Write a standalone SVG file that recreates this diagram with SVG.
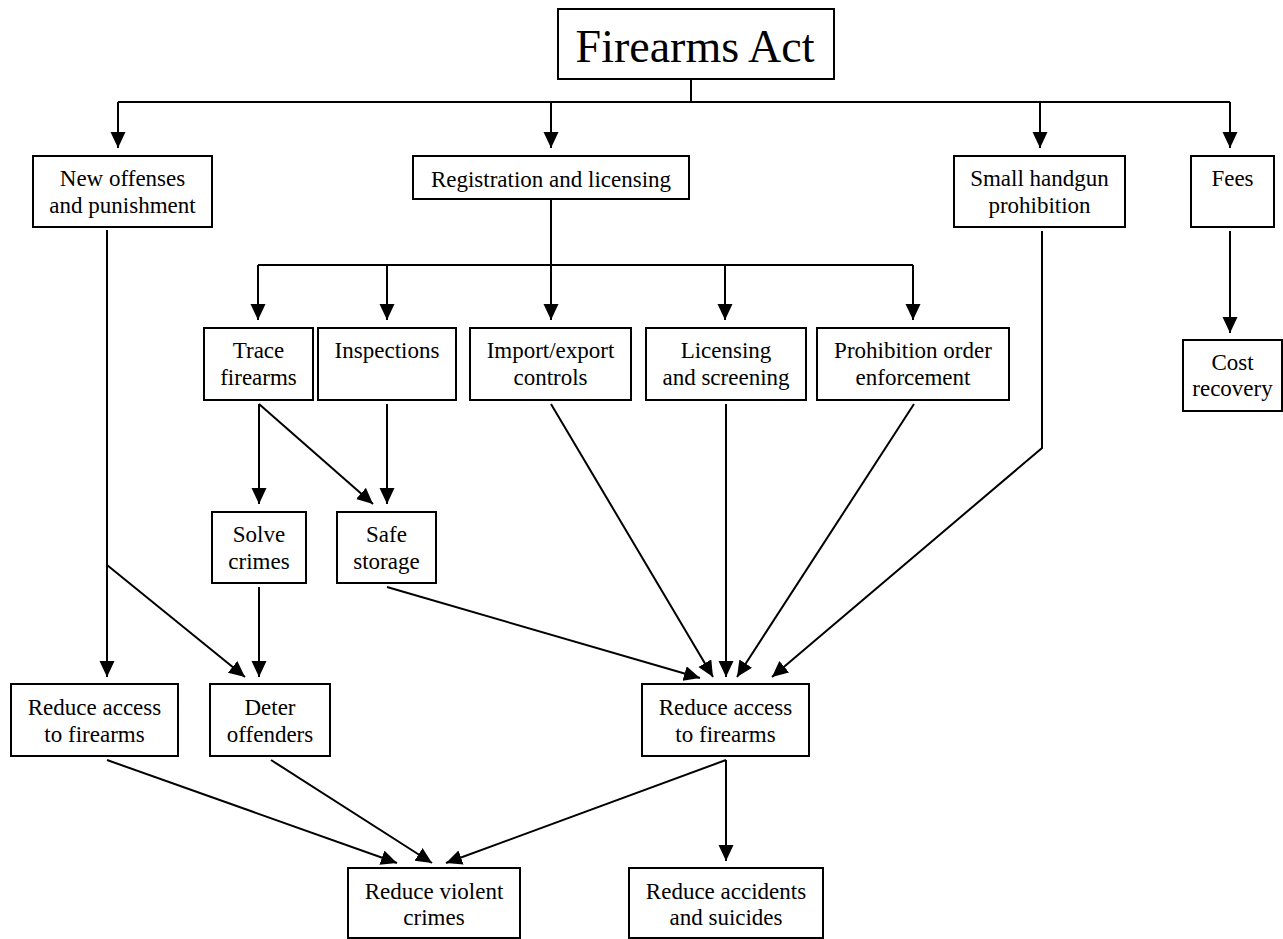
<svg xmlns="http://www.w3.org/2000/svg" width="1283" height="939" viewBox="0 0 1283 939">
<style>
.box{fill:#fff;stroke:#000;stroke-width:2}
text{font-family:"Liberation Serif","Times New Roman",serif;font-size:23px;fill:#000;text-anchor:middle}
.title{font-size:46px}
.c path{fill:none;stroke:#000;stroke-width:2}
.c path.a{marker-end:url(#ah)}
</style>
<defs>
<marker id="ah" markerUnits="userSpaceOnUse" markerWidth="17" markerHeight="16" refX="16" refY="7.5" orient="auto">
<path d="M0,0 L16,7.5 L0,15 z" fill="#000"/>
</marker>
</defs>
<rect width="1283" height="939" fill="#fff"/>
<g class="c" id="connectors">
<path d="M691 79 V102"/>
<path d="M118 102 H1230"/>
<path class="a" d="M118 102 V148"/>
<path class="a" d="M551 102 V148"/>
<path class="a" d="M1040 102 V148"/>
<path class="a" d="M1230 102 V148"/>
<path class="a" d="M551 199 V320"/>
<path d="M258 265 H913"/>
<path class="a" d="M258 265 V320"/>
<path class="a" d="M387 265 V320"/>
<path class="a" d="M725 265 V320"/>
<path class="a" d="M913 265 V320"/>
<path class="a" d="M1230 231 V333"/>
<path class="a" d="M259 404 V504"/>
<path class="a" d="M259 404 L373 504"/>
<path class="a" d="M387 404 V504"/>
<path class="a" d="M259 587 V677"/>
<path class="a" d="M387 587 L700 678"/>
<path class="a" d="M551 404 L713 677"/>
<path class="a" d="M726 404 V677"/>
<path class="a" d="M914 404 L737 677"/>
<path class="a" d="M1042 231 V448 L772 677"/>
<path class="a" d="M107 230 V677"/>
<path class="a" d="M107 565 L245 677"/>
<path class="a" d="M107 760 L397 863"/>
<path class="a" d="M271 760 L432 863"/>
<path class="a" d="M726 760 L446 863"/>
<path class="a" d="M726 760 V861"/>
</g>
<g id="act"><rect class="box" x="558" y="9" width="276" height="70"/><text class="title" x="695" y="62">Firearms Act</text></g>
<g id="offenses"><rect class="box" x="33" y="156" width="179" height="71"/><text x="122.5" y="186">New offenses</text><text x="122.5" y="213">and punishment</text></g>
<g id="registration"><rect class="box" x="413" y="156" width="276" height="43"/><text x="551" y="187">Registration and licensing</text></g>
<g id="handgun"><rect class="box" x="954" y="156" width="171" height="71"/><text x="1039.5" y="186">Small handgun</text><text x="1039.5" y="213">prohibition</text></g>
<g id="fees"><rect class="box" x="1191" y="156" width="83" height="71"/><text x="1232.5" y="186">Fees</text></g>
<g id="trace"><rect class="box" x="204" y="328" width="109" height="72"/><text x="258.5" y="358">Trace</text><text x="258.5" y="385">firearms</text></g>
<g id="inspections"><rect class="box" x="318" y="328" width="138" height="72"/><text x="387" y="358">Inspections</text></g>
<g id="import"><rect class="box" x="470" y="328" width="161" height="72"/><text x="550.5" y="358">Import/export</text><text x="550.5" y="385">controls</text></g>
<g id="licensing"><rect class="box" x="646" y="328" width="160" height="72"/><text x="726" y="358">Licensing</text><text x="726" y="385">and screening</text></g>
<g id="prohibition"><rect class="box" x="817" y="328" width="192" height="72"/><text x="913" y="358">Prohibition order</text><text x="913" y="385">enforcement</text></g>
<g id="cost"><rect class="box" x="1183" y="340" width="99" height="71"/><text x="1232.5" y="370">Cost</text><text x="1232.5" y="396">recovery</text></g>
<g id="solve"><rect class="box" x="212" y="512" width="94" height="71"/><text x="259" y="542">Solve</text><text x="259" y="569">crimes</text></g>
<g id="safe"><rect class="box" x="337" y="512" width="99" height="71"/><text x="386.5" y="542">Safe</text><text x="386.5" y="569">storage</text></g>
<g id="reduceL"><rect class="box" x="11" y="684" width="167" height="72"/><text x="94.5" y="715">Reduce access</text><text x="94.5" y="742">to firearms</text></g>
<g id="deter"><rect class="box" x="210" y="684" width="120" height="72"/><text x="270" y="715">Deter</text><text x="270" y="742">offenders</text></g>
<g id="reduceC"><rect class="box" x="642" y="684" width="167" height="72"/><text x="725.5" y="715">Reduce access</text><text x="725.5" y="742">to firearms</text></g>
<g id="violent"><rect class="box" x="348" y="868" width="172" height="70"/><text x="434" y="899">Reduce violent</text><text x="434" y="925">crimes</text></g>
<g id="accidents"><rect class="box" x="629" y="868" width="194" height="70"/><text x="726" y="899">Reduce accidents</text><text x="726" y="925">and suicides</text></g>
</svg>
